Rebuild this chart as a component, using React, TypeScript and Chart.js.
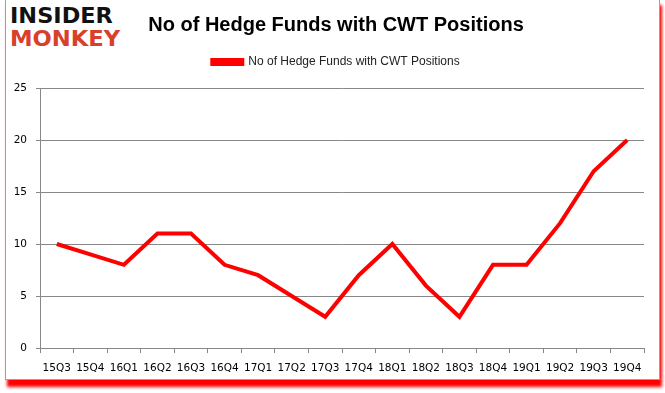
import React, { useEffect, useRef } from "react";
import { Chart, registerables, layouts } from "chart.js";

Chart.register(...registerables);

const quarters = ["15Q3", "15Q4", "16Q1", "16Q2", "16Q3", "16Q4", "17Q1", "17Q2", "17Q3", "17Q4", "18Q1", "18Q2", "18Q3", "18Q4", "19Q1", "19Q2", "19Q3", "19Q4"];
const hedgeFundCounts = [10, 9, 8, 11, 11, 8, 7, 5, 3, 7, 10, 6, 3, 8, 8, 12, 17, 20];
const seriesLabel = "No of Hedge Funds with CWT Positions";
const chartTitle = "No of Hedge Funds with CWT Positions";
const yMin = 0;
const yMax = 25;
const yStep = 5;

function makeSpacer(position: string, size: number, weight: number, fullSize: boolean) {
  const horizontal = position === "top" || position === "bottom";
  const box: any = {
    position,
    weight,
    fullSize,
    options: { position, weight, fullSize },
    width: horizontal ? 0 : size,
    height: horizontal ? size : 0,
    left: 0,
    top: 0,
    right: 0,
    bottom: 0,
    isHorizontal() {
      return horizontal;
    },
    update(maxWidth: number, maxHeight: number) {
      if (horizontal) {
        this.width = maxWidth;
        this.height = size;
      } else {
        this.width = size;
        this.height = maxHeight;
      }
    },
    draw() {},
  };
  return box;
}

const spacerPlugin = {
  id: "layoutSpacers",
  start(chart: any) {
    layouts.addBox(chart, makeSpacer("top", 10, 500, true));
    layouts.addBox(chart, makeSpacer("right", 18, 0, false));
  },
};

export default function App() {
  const canvasRef = useRef<HTMLCanvasElement | null>(null);

  useEffect(() => {
    const prevMargin = document.body.style.margin;
    document.body.style.margin = "0";
    const canvas = canvasRef.current;
    if (!canvas) return;
    const tickFont = { family: "'DejaVu Sans', Tahoma, sans-serif", size: 10.5 };
    const chart = new Chart(canvas, {
      type: "line",
      data: {
        labels: quarters,
        datasets: [
          {
            label: seriesLabel,
            data: hedgeFundCounts,
            borderColor: "#ff0000",
            backgroundColor: "#ff0000",
            borderWidth: 4,
            pointRadius: 0,
            pointHoverRadius: 0,
            tension: 0,
          },
        ],
      },
      plugins: [spacerPlugin],
      options: {
        responsive: false,
        animation: false,
        layout: { padding: { left: 10, right: 3, top: 0, bottom: 15 } },
        plugins: {
          title: {
            display: true,
            text: chartTitle,
            color: "#000",
            font: { family: "'Liberation Sans', Arial, sans-serif", size: 20, weight: "bold", lineHeight: 1 },
            padding: { top: 15, bottom: 0 },
          },
          legend: {
            display: true,
            position: "top",
            labels: {
              boxWidth: 30,
              boxHeight: 4,
              padding: 21,
              color: "#222",
              font: { family: "'Liberation Sans', Arial, sans-serif", size: 12 },
            },
          },
          tooltip: { enabled: false },
        },
        scales: {
          x: {
            type: "category",
            offset: true,
            grid: { offset: true, drawOnChartArea: false, drawTicks: true, tickLength: 5, color: "#888" },
            border: { color: "#888" },
            ticks: { font: tickFont, color: "#000", padding: 9, maxRotation: 0, autoSkip: false },
            afterFit: (s: any) => {
              s.height = 30;
            },
          },
          y: {
            min: yMin,
            max: yMax,
            ticks: { stepSize: yStep, font: tickFont, color: "#000", padding: 9 },
            grid: { color: "#888", tickLength: 4 },
            border: { color: "#888" },
            afterFit: (s: any) => {
              s.width = 30;
            },
          },
        },
      },
    });
    return () => {
      chart.destroy();
      document.body.style.margin = prevMargin;
    };
  }, []);

  return (
    <div style={{ position: "absolute", left: 0, top: 0, width: 665, height: 393, overflow: "hidden", background: "#fff" }}>
      <div
        style={{
          position: "absolute",
          left: 5,
          top: -2,
          width: 653,
          height: 380,
          border: "1px solid #a0a0a0",
          background: "#fff",
          boxShadow: "2px 7px 3px #ff0000",
        }}
      />
      <div
        style={{
          position: "absolute",
          left: 10,
          top: 5,
          fontFamily: "'DejaVu Sans', sans-serif",
          fontWeight: 900,
          fontSize: 22,
          lineHeight: "22px",
          color: "#111",
          letterSpacing: 0,
          transform: "scaleX(1.02)",
          transformOrigin: "left top",
        }}
      >
        INSIDER
      </div>
      <div
        style={{
          position: "absolute",
          left: 10,
          top: 28,
          fontFamily: "'DejaVu Sans', sans-serif",
          fontWeight: 900,
          fontSize: 22,
          lineHeight: "22px",
          color: "#d9402b",
          letterSpacing: 0,
          transform: "scaleX(1.03)",
          transformOrigin: "left top",
        }}
      >
        MONKEY
      </div>
      <canvas ref={canvasRef} width={665} height={393} style={{ position: "absolute", left: 0, top: 0 }} />
    </div>
  );
}
